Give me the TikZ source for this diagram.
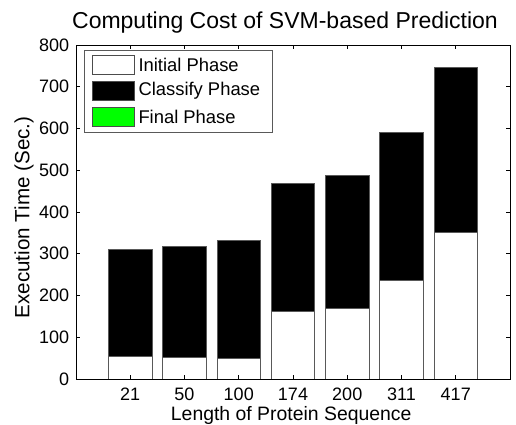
\documentclass[tikz,border=0pt]{standalone}
\usepackage{fontspec}
\setmainfont{Liberation Sans}
\tikzset{
  barinit/.style={fill=white,draw=black!65,line width=0.8bp},
  barclass/.style={fill=black,draw=black!65,line width=0.8bp},
  swatch/.style={draw=black!70,line width=0.8bp},
  legtext/.style={anchor=west,inner sep=0pt,font=\fontsize{18.4bp}{22bp}\selectfont},
}
\begin{document}
\begin{tikzpicture}[line join=miter,x=54.25bp,y=0.4175bp,font=\fontsize{18bp}{22bp}\selectfont]
\def \xmax{8};
\def \ymax{800};
\def \tick{4bp};
\def \hw{0.4};
\useasboundingbox (-76bp,-46bp) rectangle (440bp,379bp);
% bars: initial / total
\foreach \i/\a/\b in {1/53.5/310.6,2/51/318.6,3/48.7/332,4/161.3/468.7,5/169.3/488.6,6/236.4/590.8,7/351.3/747}{
  \filldraw[barinit] (\i-\hw,0) rectangle (\i+\hw,\a);
  \filldraw[barclass] (\i-\hw,\a) rectangle (\i+\hw,\b);
}
% axes box and ticks
\draw[line width=0.8bp] (0,0) rectangle (\xmax,\ymax);
\foreach \i in {1,...,7}{
  \draw[line width=0.8bp] (\i,0) -- ++(0,\tick) (\i,\ymax) -- ++(0,-\tick);
  \path (\i,0) ++(0,-21bp) node[anchor=base,inner sep=0pt] (xt\i) {\pgfmathparse{int(\i)}\ifcase\pgfmathresult\or 21\or 50\or 100\or 174\or 200\or 311\or 417\fi};
}
\foreach \v in {100,200,...,700}{
  \draw[line width=0.8bp] (0,\v) -- ++(\tick,0) (\xmax,\v) -- ++(-\tick,0);
}
\foreach \v in {0,100,...,800}{
  \node[anchor=east,inner sep=0pt] (yt\v) at ([xshift=-6.7bp]0,\v) {\v};
}
% labels
\node[anchor=base,inner sep=0pt,font=\fontsize{23bp}{26bp}\selectfont] (title) at (209bp,350.7bp) {Computing Cost of SVM-based Prediction};
\node[anchor=base,inner sep=0pt,font=\fontsize{19.4bp}{22bp}\selectfont] (xlab) at (215.2bp,-41bp) {Length of Protein Sequence};
\node[anchor=base,inner sep=0pt,rotate=90,font=\fontsize{20.6bp}{22bp}\selectfont] (ylab) at (-46.5bp,161.5bp) {Execution Time (Sec.)};
% legend
\draw[fill=white,draw=black!65,line width=0.8bp] (8bp,247bp) rectangle (196.7bp,328.3bp);
\draw[swatch,fill=white] (16.7bp,304.7bp) rectangle (58bp,323.3bp);
\draw[swatch,fill=black] (16.7bp,278.3bp) rectangle (58bp,297.3bp);
\draw[swatch,fill=green] (16.7bp,252.3bp) rectangle (58bp,271.7bp);
\node[legtext] (leginit) at (62.3bp,314bp) {Initial Phase};
\node[legtext] (legclass) at (62.3bp,287.8bp) {Classify Phase};
\node[legtext] (legfinal) at (62.3bp,262bp) {Final Phase};
\end{tikzpicture}
\end{document}
